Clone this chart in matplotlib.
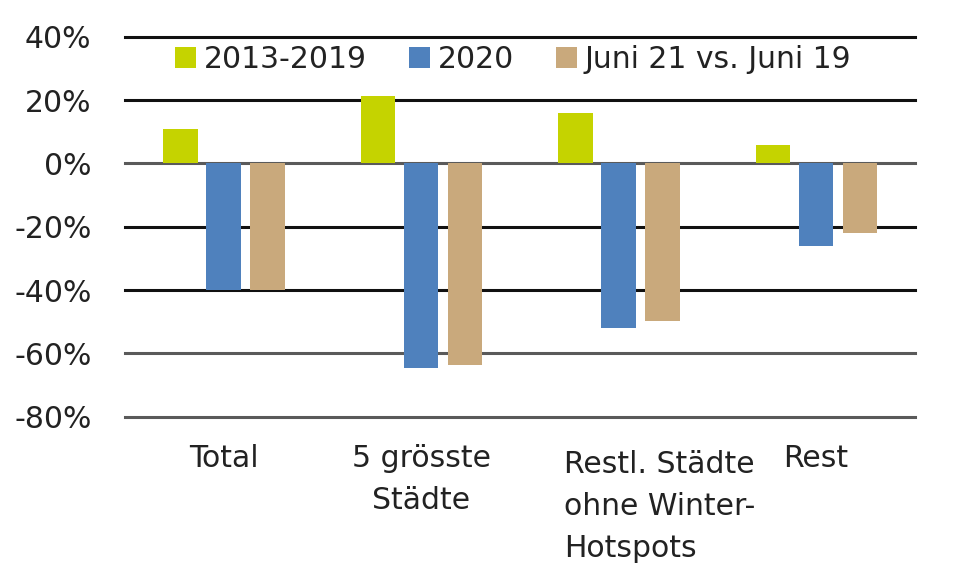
import matplotlib
matplotlib.use("Agg")
import matplotlib.pyplot as plt
import matplotlib.transforms as mtransforms
import numpy as np

categories = ["Total", "5 grösste\nStädte", "Restl. Städte\nohne Winter-\nHotspots", "Rest"]
series_names = ["2013-2019", "2020", "Juni 21 vs. Juni 19"]
vals_2013_2019 = [11, 21.3, 15.8, 5.8]
vals_2020 = [-40, -64.6, -52.1, -26]
vals_juni = [-40, -63.7, -49.7, -22.1]
yticks = [40, 20, 0, -20, -40, -60, -80]

colors = ["#c5d300", "#4f81bd", "#c9a97c"]
fs = 21.5

fig = plt.figure(figsize=(9.6, 5.88), dpi=100)
ax = fig.add_axes([0.130, 0.2913, 0.823, 0.6463])

x = np.arange(len(categories))
w = 0.175
offs = [-0.218, 0.0, 0.222]
for vals, off, c, name in zip([vals_2013_2019, vals_2020, vals_juni], offs, colors, series_names):
    ax.bar(x + off, vals, width=w, color=c, label=name, zorder=3)

# horizontal grid lines
for t in yticks:
    lc = "#5a5a5a" if t in (0, -60, -80) else "#111111"
    ax.axhline(t, color=lc, lw=2.2, zorder=1, clip_on=False)

ax.set_xlim(-0.5, 3.5)
ax.set_ylim(-80, 40)
ax.set_yticks(yticks)
ax.set_yticklabels([f"{t}%" for t in yticks], fontsize=fs, color="#222222")
ax.tick_params(axis="y", length=0, pad=24)
ax.set_xticks(x)
ax.set_xticklabels(categories, fontsize=fs, color="#222222", linespacing=1.55)
ax.tick_params(axis="x", length=0, pad=20)
for s in ax.spines.values():
    s.set_visible(False)

# third label is left-aligned in the original
lbl = ax.get_xticklabels()[2]
lbl.set_multialignment("left")
lbl.set_transform(lbl.get_transform() + mtransforms.ScaledTranslation(0.41, -0.06, fig.dpi_scale_trans))

ax.legend(loc="center", bbox_to_anchor=(0.4915, 0.939), ncol=3, frameon=False,
          fontsize=fs, handlelength=0.7, handleheight=0.7, handletextpad=0.27,
          columnspacing=1.4, borderpad=0, labelcolor="#222222")

fig.savefig("out.png", dpi=100)
